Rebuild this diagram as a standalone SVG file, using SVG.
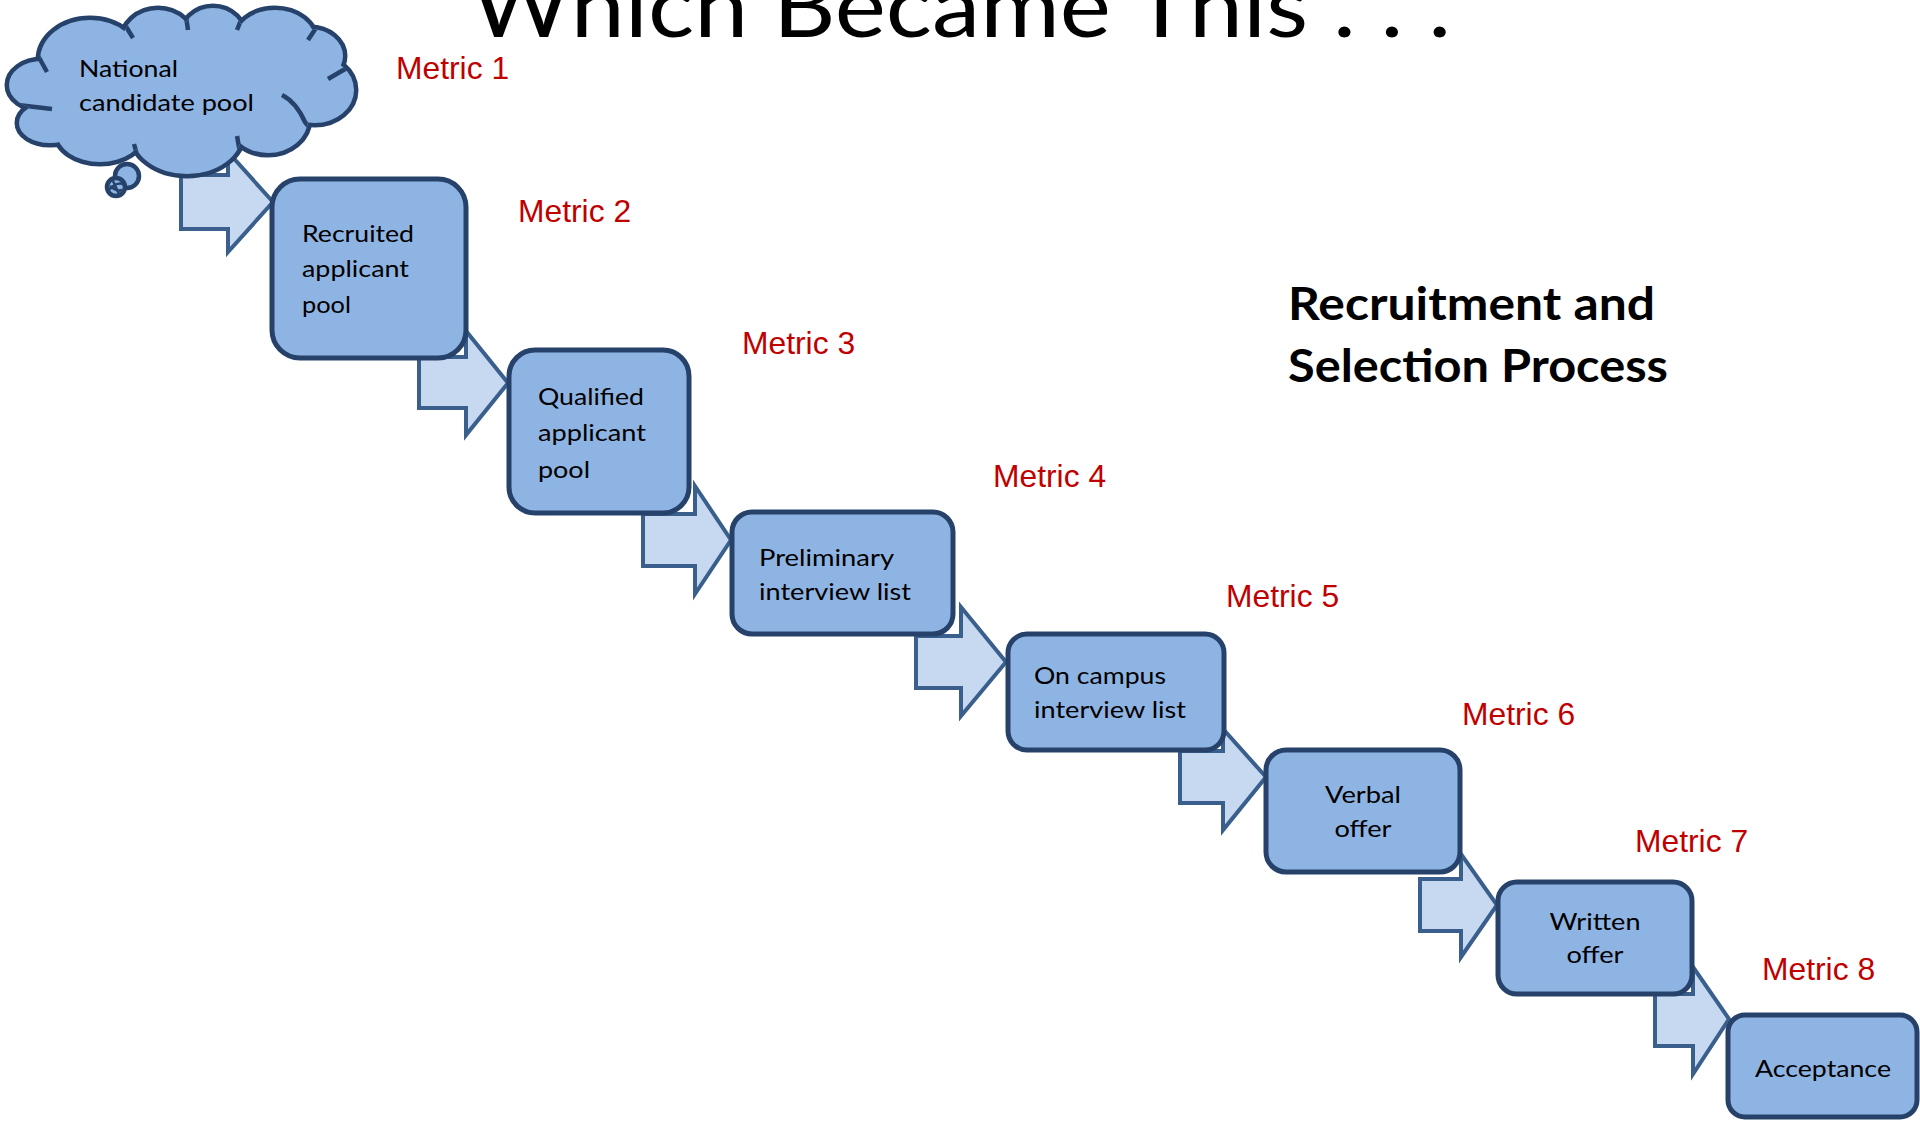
<svg xmlns="http://www.w3.org/2000/svg" xmlns:xlink="http://www.w3.org/1999/xlink" width="1920" height="1121" viewBox="0 0 1920 1121">
<style>
  .box { fill: #8eb4e3; stroke: #26426a; stroke-width: 5; }
  .arrow { fill: #c6d9f1; stroke: #3a5f8d; stroke-width: 4; stroke-linejoin: miter; }
  .lbl { font-family: Lato, "Open Sans", "Liberation Sans", sans-serif; font-size: 23px; fill: #000; }
  .mid { text-anchor: middle; }
  .metric { font-family: "Liberation Sans", Arial, sans-serif; font-size: 31.8px; fill: #c00000; }
  .tick { fill: none; stroke: #26426a; stroke-width: 4.5; stroke-linecap: butt; }
</style>
<defs>
  <g id="lobes">
    <ellipse cx="42" cy="85" rx="33" ry="24"/>
    <ellipse cx="50" cy="123" rx="31" ry="20"/>
    <ellipse cx="100" cy="133" rx="43" ry="29"/>
    <ellipse cx="187" cy="133" rx="55" ry="41"/>
    <ellipse cx="268" cy="119" rx="40" ry="34"/>
    <ellipse cx="315" cy="90" rx="39" ry="33"/>
    <ellipse cx="310" cy="56" rx="33" ry="27"/>
    <ellipse cx="275" cy="41" rx="40" ry="31"/>
    <ellipse cx="213" cy="39" rx="32" ry="31"/>
    <ellipse cx="158" cy="43" rx="36" ry="33"/>
    <ellipse cx="90" cy="60" rx="50" ry="40"/>
    <ellipse cx="185" cy="90" rx="130" ry="55"/>
  </g>
  <clipPath id="cloudClip">
    <ellipse cx="42" cy="85" rx="33" ry="24"/>
    <ellipse cx="50" cy="123" rx="31" ry="20"/>
    <ellipse cx="100" cy="133" rx="43" ry="29"/>
    <ellipse cx="187" cy="133" rx="55" ry="41"/>
    <ellipse cx="268" cy="119" rx="40" ry="34"/>
    <ellipse cx="315" cy="90" rx="39" ry="33"/>
    <ellipse cx="310" cy="56" rx="33" ry="27"/>
    <ellipse cx="275" cy="41" rx="40" ry="31"/>
    <ellipse cx="213" cy="39" rx="32" ry="31"/>
    <ellipse cx="158" cy="43" rx="36" ry="33"/>
    <ellipse cx="90" cy="60" rx="50" ry="40"/>
    <ellipse cx="185" cy="90" rx="130" ry="55"/>
  </clipPath>
</defs>
<rect width="1920" height="1121" fill="#ffffff"/>

<text id="title" x="471" y="37" textLength="980" lengthAdjust="spacingAndGlyphs" style="font-family: Lato, 'Open Sans', sans-serif; font-weight: 400; font-size: 88px; fill: #000;">Which Became This . . .</text>

<g id="connectors">
  <polygon class="arrow" points="181,175 228,175 228,152 273,202 228,252 228,229 181,229"/>
  <polygon class="arrow" points="419,357 466,357 466,331 508,383 466,435 466,408 419,408"/>
  <polygon class="arrow" points="643,514 695,514 695,486 731,540 695,594 695,566 643,566"/>
  <polygon class="arrow" points="916,636 961,636 961,607 1006,662 961,716 961,688 916,688"/>
  <polygon class="arrow" points="1180,751 1223,751 1223,729 1266,777 1223,830 1223,803 1180,803"/>
  <polygon class="arrow" points="1420,879 1461,879 1461,854 1497,905 1461,957 1461,931 1420,931"/>
  <polygon class="arrow" points="1655,994 1693,994 1693,967 1729,1019 1693,1074 1693,1046 1655,1046"/>
</g>

<g id="node-cloud">
  <use xlink:href="#lobes" href="#lobes" fill="#8eb4e3" stroke="#26426a" stroke-width="9"/>
  <use xlink:href="#lobes" href="#lobes" fill="#8eb4e3" stroke="none"/>
  <g clip-path="url(#cloudClip)">
    <path class="tick" d="M36,52 L47,72"/>
    <path class="tick" d="M122,20 L133,38"/>
    <path class="tick" d="M185,10 L188,30"/>
    <path class="tick" d="M245,10 L237,30"/>
    <path class="tick" d="M320,22 L308,40"/>
    <path class="tick" d="M352,65 L328,79"/>
    <path class="tick" d="M316,136 L305,122 Q296,102 282,95"/>
    <path class="tick" d="M241,158 L237,136"/>
    <path class="tick" d="M140,165 L134,144"/>
    <path class="tick" d="M18,105 L52,109"/>
  </g>
  <circle cx="127" cy="176" r="12" fill="#8eb4e3" stroke="#26426a" stroke-width="4.5"/>
  <circle cx="116" cy="187" r="9" fill="#8eb4e3" stroke="#26426a" stroke-width="4.5"/>
  <path d="M109,190 Q116,182 123,184 M110,186 Q117,192 122,190 M113,181 L119,194" fill="none" stroke="#26426a" stroke-width="2.5"/>
  <text class="lbl" x="79" y="77" textLength="99" lengthAdjust="spacingAndGlyphs">National</text>
  <text class="lbl" x="79" y="111" textLength="175" lengthAdjust="spacingAndGlyphs">candidate pool</text>
</g>

<g id="node-recruited">
  <rect class="box" x="272" y="179" width="194" height="179" rx="28" ry="28"/>
  <text class="lbl" x="302" y="242" textLength="112" lengthAdjust="spacingAndGlyphs">Recruited</text>
  <text class="lbl" x="302" y="277" textLength="107" lengthAdjust="spacingAndGlyphs">applicant</text>
  <text class="lbl" x="302" y="313" textLength="49" lengthAdjust="spacingAndGlyphs">pool</text>
</g>

<g id="node-qualified">
  <rect class="box" x="509" y="350" width="180" height="163" rx="26" ry="26"/>
  <text class="lbl" x="538" y="405" textLength="106" lengthAdjust="spacingAndGlyphs">Qualified</text>
  <text class="lbl" x="538" y="441" textLength="108" lengthAdjust="spacingAndGlyphs">applicant</text>
  <text class="lbl" x="538" y="478" textLength="52" lengthAdjust="spacingAndGlyphs">pool</text>
</g>

<g id="node-preliminary">
  <rect class="box" x="732" y="512" width="221" height="122" rx="20" ry="20"/>
  <text class="lbl" x="759" y="566" textLength="135" lengthAdjust="spacingAndGlyphs">Preliminary</text>
  <text class="lbl" x="759" y="600" textLength="152" lengthAdjust="spacingAndGlyphs">interview list</text>
</g>

<g id="node-oncampus">
  <rect class="box" x="1008" y="634" width="216" height="116" rx="19" ry="19"/>
  <text class="lbl" x="1034" y="684" textLength="132" lengthAdjust="spacingAndGlyphs">On campus</text>
  <text class="lbl" x="1034" y="718" textLength="152" lengthAdjust="spacingAndGlyphs">interview list</text>
</g>

<g id="node-verbal">
  <rect class="box" x="1266" y="750" width="194" height="122" rx="20" ry="20"/>
  <text class="lbl mid" x="1363" y="803" textLength="76" lengthAdjust="spacingAndGlyphs">Verbal</text>
  <text class="lbl mid" x="1363" y="837" textLength="57" lengthAdjust="spacingAndGlyphs">offer</text>
</g>

<g id="node-written">
  <rect class="box" x="1498" y="882" width="194" height="112" rx="19" ry="19"/>
  <text class="lbl mid" x="1595" y="930" textLength="91" lengthAdjust="spacingAndGlyphs">Written</text>
  <text class="lbl mid" x="1595" y="963" textLength="57" lengthAdjust="spacingAndGlyphs">offer</text>
</g>

<g id="node-acceptance">
  <rect class="box" x="1728" y="1015" width="189" height="102" rx="17" ry="17"/>
  <text class="lbl mid" x="1823" y="1077" textLength="136" lengthAdjust="spacingAndGlyphs">Acceptance</text>
</g>

<g id="metrics">
  <text class="metric" x="396" y="79">Metric 1</text>
  <text class="metric" x="518" y="222">Metric 2</text>
  <text class="metric" x="742" y="354">Metric 3</text>
  <text class="metric" x="993" y="487">Metric 4</text>
  <text class="metric" x="1226" y="607">Metric 5</text>
  <text class="metric" x="1462" y="725">Metric 6</text>
  <text class="metric" x="1635" y="852">Metric 7</text>
  <text class="metric" x="1762" y="980">Metric 8</text>
</g>

<g id="heading" style="font-family: Lato, 'Open Sans', sans-serif; font-weight: bold; font-size: 46px; fill: #000;">
  <text x="1288" y="320" textLength="367" lengthAdjust="spacingAndGlyphs">Recruitment and</text>
  <text x="1288" y="382" textLength="380" lengthAdjust="spacingAndGlyphs">Selection Process</text>
</g>
</svg>
